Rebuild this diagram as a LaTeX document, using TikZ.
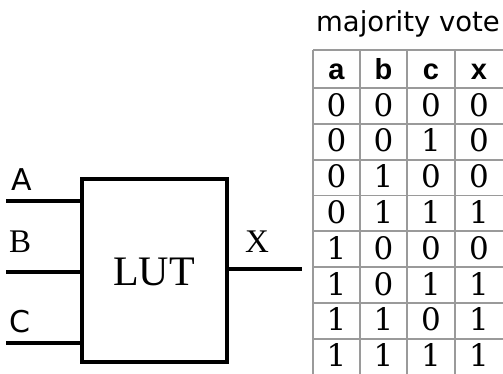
\documentclass[tikz,border=0pt]{standalone}
\usepackage{fontspec}
\newfontfamily\dvsans{DejaVu Sans}
\newfontfamily\dvserif{DejaVu Serif}
\newfontfamily\lserif{Liberation Serif}
\newfontfamily\lsans{Liberation Sans}
\definecolor{gridgray}{HTML}{9A9A9A}
\tikzset{
  wire/.style={line width=4.5pt},
  lutbox/.style={draw, line width=4.5pt, minimum width=145pt, minimum height=183pt, inner sep=0pt},
  sanslbl/.style={inner sep=0pt, font=\dvsans\fontsize{30}{30}\selectfont},
  seriflbl/.style={inner sep=0pt, font=\lserif\fontsize{33}{33}\selectfont},
  hdr/.style={inner sep=0pt, anchor=base, font=\lsans\bfseries\fontsize{29}{29}\selectfont},
  cell/.style={inner sep=0pt, anchor=base, font=\dvserif\fontsize{31}{31}\selectfont},
  gridline/.style={draw=gridgray, line width=1.8pt}
}
\begin{document}
\begin{tikzpicture}[x=1pt, y=-1pt]
\useasboundingbox (0,0) rectangle (503,373);
\begin{scope}
\clip (0,0) rectangle (503,373);
% LUT block
\node[lutbox] (lut) at (154.5,270.5) {};
\node[inner sep=0pt, anchor=base, font=\lserif\fontsize{42}{42}\selectfont] (lutlbl) at (154,285) {LUT};
\coordinate (inA) at (6,201);
\coordinate (inB) at (6,272);
\coordinate (inC) at (6,343);
\coordinate (outX) at (302,269);
\draw[wire] (inA) -- (inA -| lut.west);
\draw[wire] (inB) -- (inB -| lut.west);
\draw[wire] (inC) -- (inC -| lut.west);
\draw[wire] (outX -| lut.east) -- (outX);
\node[sanslbl, anchor=base west] (lA) at (11,190) {A};
\node[seriflbl, anchor=base west] (lB) at (9,252) {B};
\node[sanslbl, anchor=base west] (lC) at (9,332) {C};
\node[seriflbl, anchor=base west] (lX) at (245,252) {X};
% title
\node[inner sep=0pt, anchor=base west, font=\dvsans\fontsize{27.5}{27.5}\selectfont] (title) at (316,31) {majority vote};
% table grid
\foreach \x in {313,360,407,455} \draw[gridline] (\x,50) -- (\x,380);
\draw[gridline] (313,50) -- (510,50);
\foreach \r in {0,...,7} \draw[gridline] (313,88+35.8*\r) -- (510,88+35.8*\r);
% header
\node[hdr] (ha) at (336.5,79) {a};
\node[hdr] (hb) at (383.5,79) {b};
\node[hdr] (hc) at (431,79) {c};
\node[hdr] (hx) at (479,79) {x};
% rows
\foreach \r/\a/\b/\c/\xx in {0/0/0/0/0,1/0/0/1/0,2/0/1/0/0,3/0/1/1/1,4/1/0/0/0,5/1/0/1/1,6/1/1/0/1,7/1/1/1/1}{
  \pgfmathsetmacro{\yy}{88+35.8*\r+28}
  \node[cell] (ra\r) at (336.5,\yy) {\a};
  \node[cell] (rb\r) at (383.5,\yy) {\b};
  \node[cell] (rc\r) at (431,\yy) {\c};
  \node[cell] (rx\r) at (479,\yy) {\xx};
}
\end{scope}
\end{tikzpicture}
\end{document}
